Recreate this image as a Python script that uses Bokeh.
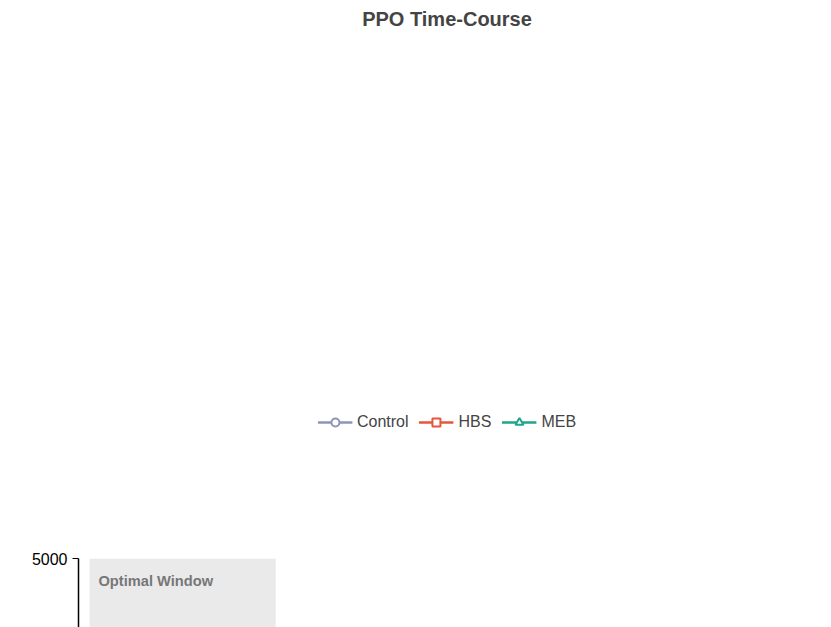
from bokeh.plotting import figure
from bokeh.models import Legend, LegendItem, BoxAnnotation, Label, Whisker, ColumnDataSource, FixedTicker
from bokeh.embed import file_html
from bokeh.resources import INLINE

times = [3, 6, 9, 12, 15, 18]
ctrl = [4618, 4645, 4695, 4711, 4658, 4656]
ctrl_sd = [77, 80, 82, 76, 89, 81]
hbs = [4741, 4733, 4773, 4683, 4683, 4600]
hbs_sd = [54, 53, 65, 53, 55, 57]
meb = [4802, 4795, 4785, 4741, 4628, 4691]
meb_sd = [107, 92, 97, 97, 94, 87]

p = figure(frame_width=737, frame_height=440, output_backend="svg", toolbar_location=None,
           x_range=(2.15, 18.78), y_range=(4500, 5000),
           title="PPO Time-Course", min_border_left=5, min_border_right=8,
           min_border_bottom=5, min_border_top=5)
p.title.align = "center"
p.title.text_font = "Liberation Sans"
p.title.text_font_size = "15pt"
p.title.text_font_style = "bold"
p.grid.visible = False
p.outline_line_color = None
p.add_layout(BoxAnnotation(left=2.4, right=6.6, fill_color="#d9d9d9", fill_alpha=0.55, line_color=None))
p.add_layout(Label(x=2.6, y=4975, text="Optimal Window", text_font="Liberation Sans",
                   text_font_style="bold", text_font_size="11pt", text_color="#777777",
                   text_baseline="middle"))

items = []
for vals, sd, off, col, marker, name in [
    (ctrl, ctrl_sd, -0.5, "#8c96b8", "circle", "Control"),
    (hbs, hbs_sd, 0.0, "#e4573c", "square", "HBS"),
    (meb, meb_sd, 0.5, "#1fa58a", "triangle", "MEB")]:
    xs = [t + off for t in times]
    src = ColumnDataSource(dict(x=xs, y=vals, lo=[v - s for v, s in zip(vals, sd)],
                                hi=[v + s for v, s in zip(vals, sd)]))
    w = Whisker(source=src, base="x", lower="lo", upper="hi", line_color=col, line_width=2)
    w.upper_head.line_color = col; w.lower_head.line_color = col
    w.upper_head.line_width = 2; w.lower_head.line_width = 2
    w.upper_head.size = 14; w.lower_head.size = 14
    p.add_layout(w)
    l = p.line("x", "y", source=src, line_color=col, line_width=2.5)
    s = p.scatter("x", "y", source=src, marker=marker, size=15, fill_color="white",
                  line_color=col, line_width=2)
    items.append(LegendItem(label=name, renderers=[l, s]))

leg = Legend(items=items, orientation="horizontal", location="center",
             label_text_font="Liberation Sans", label_text_font_size="12pt",
             border_line_color=None, glyph_width=35, spacing=10, margin=12)
p.add_layout(leg, "above")

p.xaxis.ticker = FixedTicker(ticks=times)
p.yaxis.ticker = FixedTicker(ticks=[4500, 4600, 4700, 4800, 4900, 5000])
for ax in (p.xaxis, p.yaxis):
    ax.axis_line_width = 1.5
    ax.major_tick_out = 6
    ax.major_tick_in = 0
    ax.minor_tick_line_color = None
    ax.major_label_text_font = "Liberation Sans"
    ax.major_label_text_font_size = "12pt"
    ax.major_label_text_color = "black"
    ax.axis_label_text_font = "Liberation Sans"
    ax.axis_label_text_font_size = "13pt"
    ax.axis_label_text_font_style = "normal"
p.xaxis.axis_label = "Time Post-Activation (min)"
p.yaxis.axis_label = "Peak Power Output (W)"
p.xaxis.axis_label_standoff = 4

open("out.html", "w").write(file_html(p, INLINE))
